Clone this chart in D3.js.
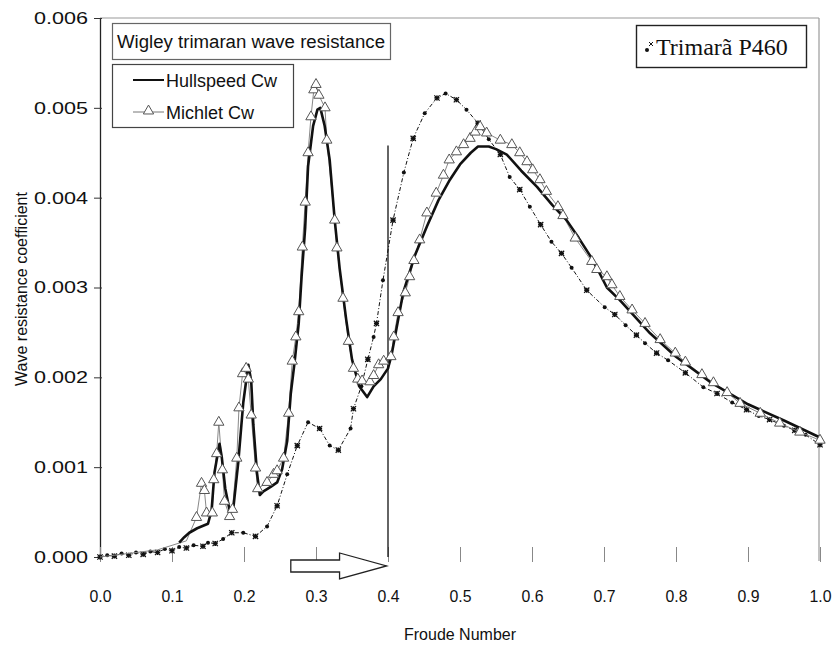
<!DOCTYPE html>
<html><head><meta charset="utf-8">
<script src="https://cdn.jsdelivr.net/npm/d3@7"></script>
<style>html,body{margin:0;padding:0;background:#fff;}svg{display:block;}</style>
</head><body>
<svg id="chart" width="833" height="655"></svg>
<script>
// ---------- data ----------
const xTicks = [0,0.1,0.2,0.3,0.4,0.5,0.6,0.7,0.8,0.9,1.0];
const yTicks = [0,0.001,0.002,0.003,0.004,0.005,0.006];

const hullFn = [0.110,0.117,0.124,0.135,0.150,0.155,0.159,0.166,0.169,0.174,0.180,0.185,0.192,0.199,0.206,0.210,0.213,0.218,0.222,0.227,0.237,0.246,0.253,0.260,0.265,0.270,0.276,0.280,0.285,0.289,0.296,0.302,0.306,0.312,0.319,0.326,0.333,0.342,0.350,0.360,0.371,0.380,0.390,0.400,0.405,0.421,0.437,0.454,0.470,0.486,0.500,0.515,0.525,0.540,0.550,0.565,0.585,0.607,0.628,0.648,0.665,0.685,0.704,0.722,0.740,0.764,0.800,0.847,0.900,0.950,1.000];
const hullCw = [0.00016,0.00022,0.00027,0.00032,0.00037,0.00052,0.00094,0.00126,0.00112,0.00076,0.00052,0.00053,0.00105,0.00172,0.00214,0.00196,0.00147,0.00094,0.00069,0.00073,0.00078,0.00083,0.00098,0.00129,0.00182,0.00215,0.0026,0.00312,0.00367,0.00435,0.0048,0.00498,0.0050,0.0048,0.00442,0.00375,0.0032,0.00264,0.0022,0.0019,0.00178,0.0019,0.00198,0.0021,0.00225,0.00294,0.00335,0.00368,0.00397,0.0042,0.00437,0.0045,0.00457,0.00457,0.00454,0.00448,0.0043,0.00412,0.00392,0.00375,0.00355,0.0033,0.0030,0.00286,0.0027,0.00249,0.00223,0.00195,0.0017,0.00152,0.00133];

const michFn = [0.000,0.040,0.080,0.120,0.134,0.141,0.145,0.148,0.156,0.158,0.162,0.165,0.170,0.173,0.180,0.184,0.190,0.193,0.198,0.203,0.206,0.210,0.216,0.219,0.232,0.241,0.246,0.255,0.262,0.267,0.272,0.276,0.281,0.285,0.289,0.293,0.297,0.300,0.304,0.3125,0.315,0.326,0.329,0.3375,0.345,0.352,0.358,0.364,0.375,0.380,0.387,0.394,0.404,0.408,0.414,0.424,0.430,0.436,0.444,0.454,0.467,0.477,0.485,0.495,0.505,0.514,0.521,0.528,0.537,0.556,0.572,0.583,0.593,0.601,0.611,0.620,0.636,0.643,0.660,0.683,0.690,0.704,0.711,0.722,0.739,0.757,0.778,0.799,0.813,0.836,0.852,0.871,0.889,0.917,0.944,0.972,1.000];
const michCw = [0,0.00004,0.00008,0.00018,0.00044,0.00082,0.00074,0.00049,0.00049,0.00086,0.00115,0.0015,0.00097,0.00062,0.00045,0.00053,0.0011,0.00166,0.00204,0.0021,0.00198,0.00158,0.00099,0.00076,0.00083,0.00092,0.00096,0.0011,0.0016,0.00218,0.00245,0.00273,0.00345,0.00395,0.0045,0.0049,0.0052,0.00526,0.00514,0.0050,0.00464,0.00375,0.00344,0.00288,0.0024,0.0021,0.00198,0.00196,0.00195,0.00202,0.00214,0.00218,0.00223,0.00245,0.00272,0.00294,0.00312,0.0033,0.00353,0.00383,0.00405,0.00425,0.00442,0.00451,0.00459,0.00466,0.00473,0.00479,0.00472,0.00464,0.00459,0.0045,0.0044,0.00431,0.0042,0.00407,0.0039,0.0038,0.00355,0.00329,0.0032,0.00312,0.00303,0.0029,0.00275,0.0026,0.00242,0.00227,0.00217,0.00203,0.00194,0.00183,0.00171,0.0016,0.00149,0.00139,0.0013];

const trimFn = [0.000,0.010,0.020,0.030,0.040,0.050,0.060,0.070,0.080,0.090,0.100,0.110,0.120,0.130,0.143,0.150,0.160,0.171,0.183,0.199,0.216,0.232,0.246,0.260,0.274,0.289,0.305,0.319,0.331,0.348,0.352,0.363,0.372,0.380,0.384,0.393,0.407,0.422,0.435,0.451,0.468,0.480,0.495,0.509,0.525,0.540,0.556,0.569,0.583,0.597,0.612,0.627,0.641,0.655,0.676,0.701,0.715,0.730,0.745,0.757,0.773,0.789,0.813,0.838,0.857,0.878,0.898,0.915,0.930,0.950,0.965,0.980,1.000];
const trimCw = [0,0.00002,0.00001,0.00004,0.00002,0.00005,0.00003,0.00006,0.00005,0.00009,0.00007,0.00011,0.0001,0.00013,0.00012,0.00016,0.00015,0.0002,0.00027,0.00027,0.00023,0.00034,0.00057,0.00092,0.00124,0.0015,0.00143,0.00124,0.00119,0.00143,0.00165,0.0019,0.0022,0.00245,0.0026,0.00308,0.00375,0.00428,0.00466,0.00494,0.00511,0.00516,0.00509,0.00498,0.00483,0.00465,0.00448,0.00423,0.00409,0.0039,0.0037,0.00351,0.00338,0.00322,0.00297,0.00278,0.0027,0.00258,0.00247,0.00238,0.00227,0.00219,0.00205,0.00189,0.00182,0.00172,0.00164,0.00157,0.00153,0.00146,0.00141,0.00136,0.00125];

const legendTitle = "Wigley trimaran wave resistance";
const seriesNames = ["Hullspeed Cw","Michlet Cw"];
const boxLabel = "Trimarã P460";
const xLabel = "Froude Number";
const yLabel = "Wave resistance coefficient";
const markerLine = 0.4;          // vertical reference line at Fn
const markerTop = 0.00458;       // its top (Cw)
const arrowSpan = [0.265, 0.398]; // arrow from / to (Fn)
const arrowLevel = -0.0001;      // arrow level (Cw)

// ---------- layout ----------
const svg = d3.select("#chart");
const L = 100, R = 820, T = 18, B = 557;
const x = d3.scaleLinear().domain([0,1]).range([L,R]);
const y = d3.scaleLinear().domain([0,0.006]).range([B,T]);
const FS = "'Liberation Sans', Arial, sans-serif";

// frame (top/right light)
svg.append("line").attr("x1",L).attr("x2",R-1).attr("y1",T).attr("y2",T).attr("stroke","#999").attr("stroke-width",1.2);
svg.append("line").attr("x1",R-1).attr("x2",R-1).attr("y1",T).attr("y2",B+4).attr("stroke","#999").attr("stroke-width",1.2);

// y axis
const yAxis = svg.append("g").attr("transform",`translate(${L},0)`)
  .call(d3.axisLeft(y).tickValues(yTicks).tickFormat(d3.format(".3f")).tickSizeOuter(0).tickSizeInner(6).tickPadding(6));
yAxis.select(".domain").attr("stroke","#222").attr("stroke-width",1.3);
yAxis.selectAll(".tick line").attr("stroke","#333").attr("x2",-6).attr("x1",2);
yAxis.selectAll(".tick text").attr("font-family",FS).attr("font-size",17).attr("fill","#111")
  .attr("textLength",54).attr("lengthAdjust","spacingAndGlyphs");

// x axis
const xAxis = svg.append("g").attr("transform",`translate(0,${B})`)
  .call(d3.axisBottom(x).tickValues(xTicks).tickFormat(d3.format(".1f")).tickSizeOuter(0).tickSizeInner(5).tickPadding(28));
xAxis.select(".domain").remove();
xAxis.selectAll(".tick line").attr("stroke","#888").attr("y1",-10).attr("y2",5);
xAxis.selectAll(".tick text").attr("font-family",FS).attr("font-size",17).attr("fill","#111")
  .attr("textLength",22).attr("lengthAdjust","spacingAndGlyphs");

// axis titles
svg.append("text").attr("x",(L+R)/2).attr("y",640).attr("text-anchor","middle")
  .attr("font-family",FS).attr("font-size",17).attr("fill","#111")
  .attr("textLength",112).attr("lengthAdjust","spacingAndGlyphs").text(xLabel);
svg.append("text").attr("transform","translate(27,289) rotate(-90)").attr("text-anchor","middle")
  .attr("font-family",FS).attr("font-size",16).attr("fill","#111").text(yLabel);

// vertical reference line
svg.append("line").attr("x1",x(markerLine)).attr("x2",x(markerLine)).attr("y1",y(markerTop)).attr("y2",y(0))
  .attr("stroke","#111").attr("stroke-width",1.3);

// hollow arrow
(function(){
  const x0 = x(arrowSpan[0]), x1 = x(arrowSpan[1]), yc = y(arrowLevel);
  const hb = x1 - 47;
  const pts = [[x0,yc-6],[hb,yc-6],[hb,yc-13],[x1,yc],[hb,yc+13],[hb,yc+6],[x0,yc+6]];
  svg.append("path").attr("d", d3.line()(pts) + "Z").attr("fill","#fff").attr("stroke","#222").attr("stroke-width",1.3);
})();

const line = d3.line().x(d=>x(d[0])).y(d=>y(d[1]));

// Trimarã P460 (dash-dot with markers)
const trim = trimFn.map((f,i)=>[f,trimCw[i]]);
svg.append("path").attr("d",line(trim)).attr("fill","none").attr("stroke","#111")
  .attr("stroke-width",1).attr("stroke-dasharray","4,2,1,2");
const star = d3.symbol().type(d3.symbolCross).size(14);
const tg = svg.append("g");
trim.forEach((d,i)=>{
  if(i%2===0){
    tg.append("path").attr("d",d3.symbol().type(d3.symbolX).size(20)()).attr("transform",`translate(${x(d[0])},${y(d[1])})`)
      .attr("fill","none").attr("stroke","#111").attr("stroke-width",1.2);
    tg.append("path").attr("d",star()).attr("transform",`translate(${x(d[0])},${y(d[1])})`).attr("fill","#111");
  } else {
    tg.append("circle").attr("cx",x(d[0])).attr("cy",y(d[1])).attr("r",2).attr("fill","#111");
  }
});

// Michlet (thin gray line + hollow triangles)
const mich = michFn.map((f,i)=>[f,michCw[i]]);
svg.append("path").attr("d",line(mich)).attr("fill","none").attr("stroke","#888").attr("stroke-width",1);

// Hullspeed (thick black)
const hull = hullFn.map((f,i)=>[f,hullCw[i]]);
svg.append("path").attr("d",line(hull)).attr("fill","none").attr("stroke","#111").attr("stroke-width",2.6).attr("stroke-linejoin","round");

const tri = d3.symbol().type(d3.symbolTriangle).size(46);
svg.append("g").selectAll("path").data(mich.filter(d=>d[0]>=0.13)).join("path")
  .attr("d",tri).attr("transform",d=>`translate(${x(d[0])},${y(d[1])})`)
  .attr("fill","#fff").attr("stroke","#555").attr("stroke-width",1);

// legend title box
svg.append("rect").attr("x",112.5).attr("y",23.5).attr("width",278).attr("height",36).attr("fill","#fff").attr("stroke","#666").attr("stroke-width",1.2);
svg.append("text").attr("x",117).attr("y",48).attr("font-family",FS).attr("font-size",18).attr("fill","#111")
  .attr("textLength",268).attr("lengthAdjust","spacingAndGlyphs").text(legendTitle);

// series legend box
svg.append("rect").attr("x",112.5).attr("y",64.5).attr("width",181).attr("height",63).attr("fill","#fff").attr("stroke","#444").attr("stroke-width",1.2);
svg.append("line").attr("x1",133).attr("x2",164).attr("y1",80).attr("y2",80).attr("stroke","#111").attr("stroke-width",2);
svg.append("line").attr("x1",133).attr("x2",164).attr("y1",112).attr("y2",112).attr("stroke","#777").attr("stroke-width",1);
svg.append("path").attr("d",tri).attr("transform","translate(148.5,111)").attr("fill","#fff").attr("stroke","#555");
svg.selectAll("text.leg").data(seriesNames).join("text").attr("class","leg")
  .attr("x",166).attr("y",(d,i)=>87+i*32).attr("font-family",FS).attr("font-size",18).attr("fill","#111").text(d=>d);

// Trimarã box
svg.append("rect").attr("x",636.5).attr("y",25.5).attr("width",170).attr("height",42).attr("fill","#fff").attr("stroke","#222").attr("stroke-width",1.4);
svg.append("circle").attr("cx",647).attr("cy",50).attr("r",2).attr("fill","#111");
svg.append("path").attr("d",d3.symbol().type(d3.symbolX).size(12)()).attr("transform","translate(651,44)").attr("stroke","#111").attr("fill","none");
svg.append("text").attr("x",656).attr("y",55).attr("font-family","'Liberation Serif','Times New Roman',serif")
  .attr("font-size",24).attr("fill","#111").text(boxLabel);
</script>
</body></html>
